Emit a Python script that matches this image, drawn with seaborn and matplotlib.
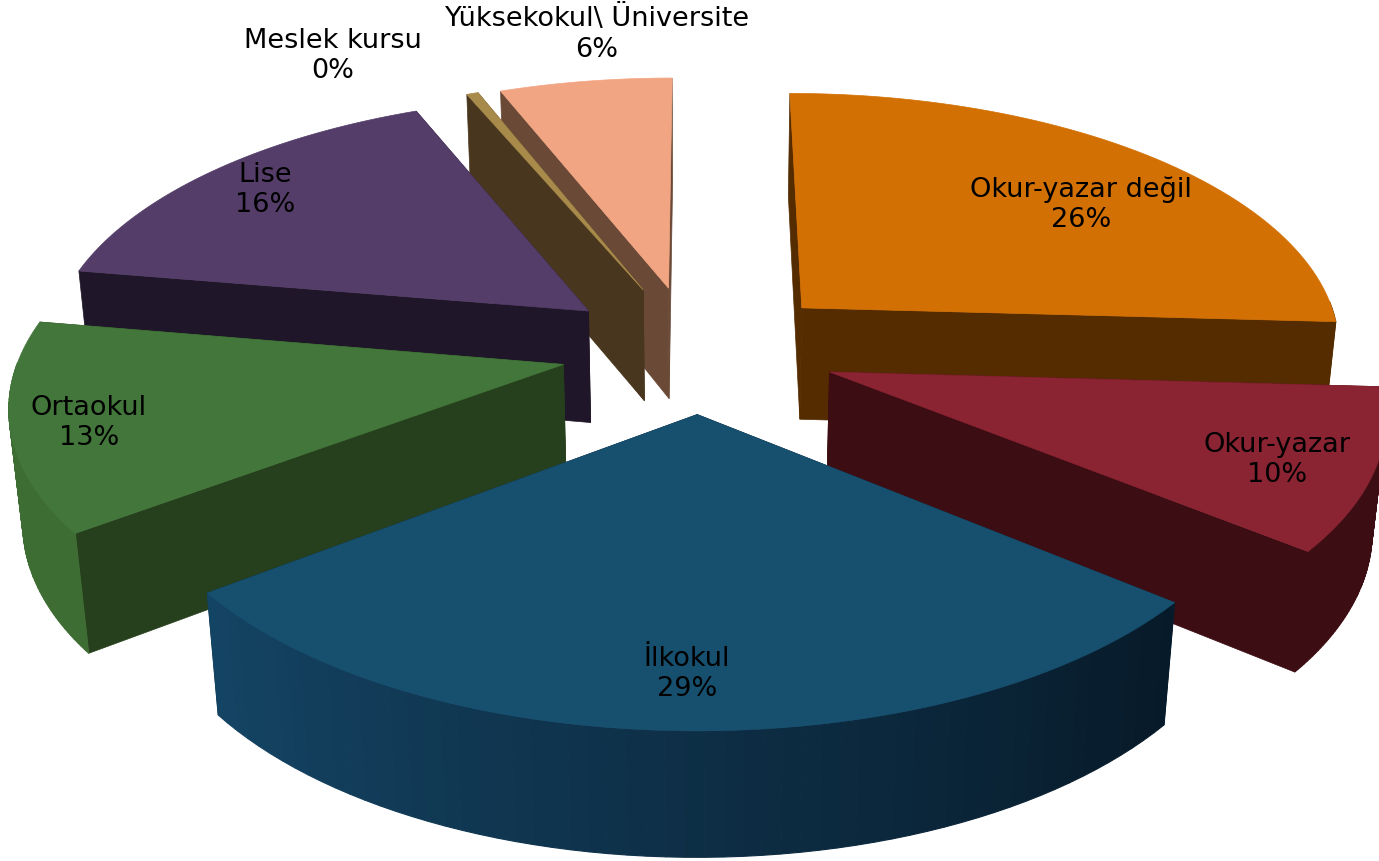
import numpy as np
import matplotlib
matplotlib.use("Agg")
import matplotlib.pyplot as plt
from matplotlib.patches import Polygon
import seaborn as sns

# ---------- data ----------
labels = ["Okur-yazar değil", "Okur-yazar", "İlkokul", "Ortaokul", "Lise", "Meslek kursu", "Yüksekokul\\ Üniversite"]
shares = [26, 10, 29, 13, 16, 0.4, 6]
shown = ["26%", "10%", "29%", "13%", "16%", "0%", "6%"]

# ---------- style ----------
top_colors = ["#D37004", "#8A2332", "#174F6E", "#42763A", "#543D68", "#A88A4A", "#F2A582"]
cut_colors = ["#552B00", "#3C0D12", "#0B2436", "#263F1C", "#201629", "#49361E", "#6A4A37"]
rim_start = ["#552B00", "#3C0D12", "#071A29", "#3E6D34", "#201629", "#49361E", "#6A4A37"]
rim_end = ["#552B00", "#3C0D12", "#144464", "#3E6D34", "#201629", "#49361E", "#6A4A37"]
# how far each slice is pulled out of the pie, in pie radii
explode_x = [0.192, 0.236, -0.005, -0.25, -0.21, -0.108, -0.06]
explode_y = [-0.138, 0.117, 0.277, 0.088, -0.125, -0.212, -0.22]
label_x = [1081, 1277, 687, 89, 265, 333, 597]
label_y = [205, 460, 674, 423, 190, 56, 34]
draw_order = [6, 5, 4, 0, 3, 1, 2]

# projection of the tilted disc
cx, cy = 700, 342
rx, ry, depth = 540, 252, 115
k, m = 0.135, 0.02


def project(x, y, z=0):
    w = 1 - k * y + m * z
    return np.column_stack([cx + rx * x / w, cy + (ry * y + depth * z) / w])


sns.set_theme(style="white")
plt.rcParams["font.family"] = ["DejaVu Sans"]
fig, ax = plt.subplots(figsize=(13.79, 8.61), dpi=100)
fig.subplots_adjust(0, 0, 1, 1)
ax.set_xlim(0, 1379)
ax.set_ylim(861, 0)
ax.axis("off")

edges = np.cumsum([0] + shares) / sum(shares) * 2 * np.pi

for i in draw_order:
    t = np.linspace(edges[i], edges[i + 1], 61)
    ox, oy = explode_x[i], explode_y[i]
    arc_x, arc_y = ox + np.sin(t), oy - np.cos(t)

    # flat cut faces, far one first
    cuts = sorted([0, -1], key=lambda e: arc_y[e])
    for e in cuts:
        xs = np.array([ox, arc_x[e]])
        ys = np.array([oy, arc_y[e]])
        face = np.vstack([project(xs, ys), project(xs[::-1], ys[::-1], 1)])
        ax.add_patch(Polygon(face, closed=True, fc=cut_colors[i], ec=cut_colors[i], lw=0.5))

    # outer wall in thin strips so it can shade along the arc
    shades = sns.blend_palette([rim_start[i], rim_end[i]], len(t) - 1)
    for j in range(len(t) - 1):
        if np.cos(t[j]) > 0 and np.cos(t[j + 1]) > 0:
            continue
        xs, ys = arc_x[j:j + 2], arc_y[j:j + 2]
        face = np.vstack([project(xs, ys), project(xs[::-1], ys[::-1], 1)])
        ax.add_patch(Polygon(face, closed=True, fc=shades[j], ec=shades[j], lw=0.8))

    top = project(np.r_[ox, arc_x], np.r_[oy, arc_y])
    ax.add_patch(Polygon(top, closed=True, fc=top_colors[i], ec=top_colors[i], lw=0.5))

for name, pct, lx, ly in zip(labels, shown, label_x, label_y):
    ax.text(lx, ly, f"{name}\n{pct}", ha="center", va="center", fontsize=19.5,
            color="black", linespacing=1.22)

fig.savefig("out.png", dpi=100)
